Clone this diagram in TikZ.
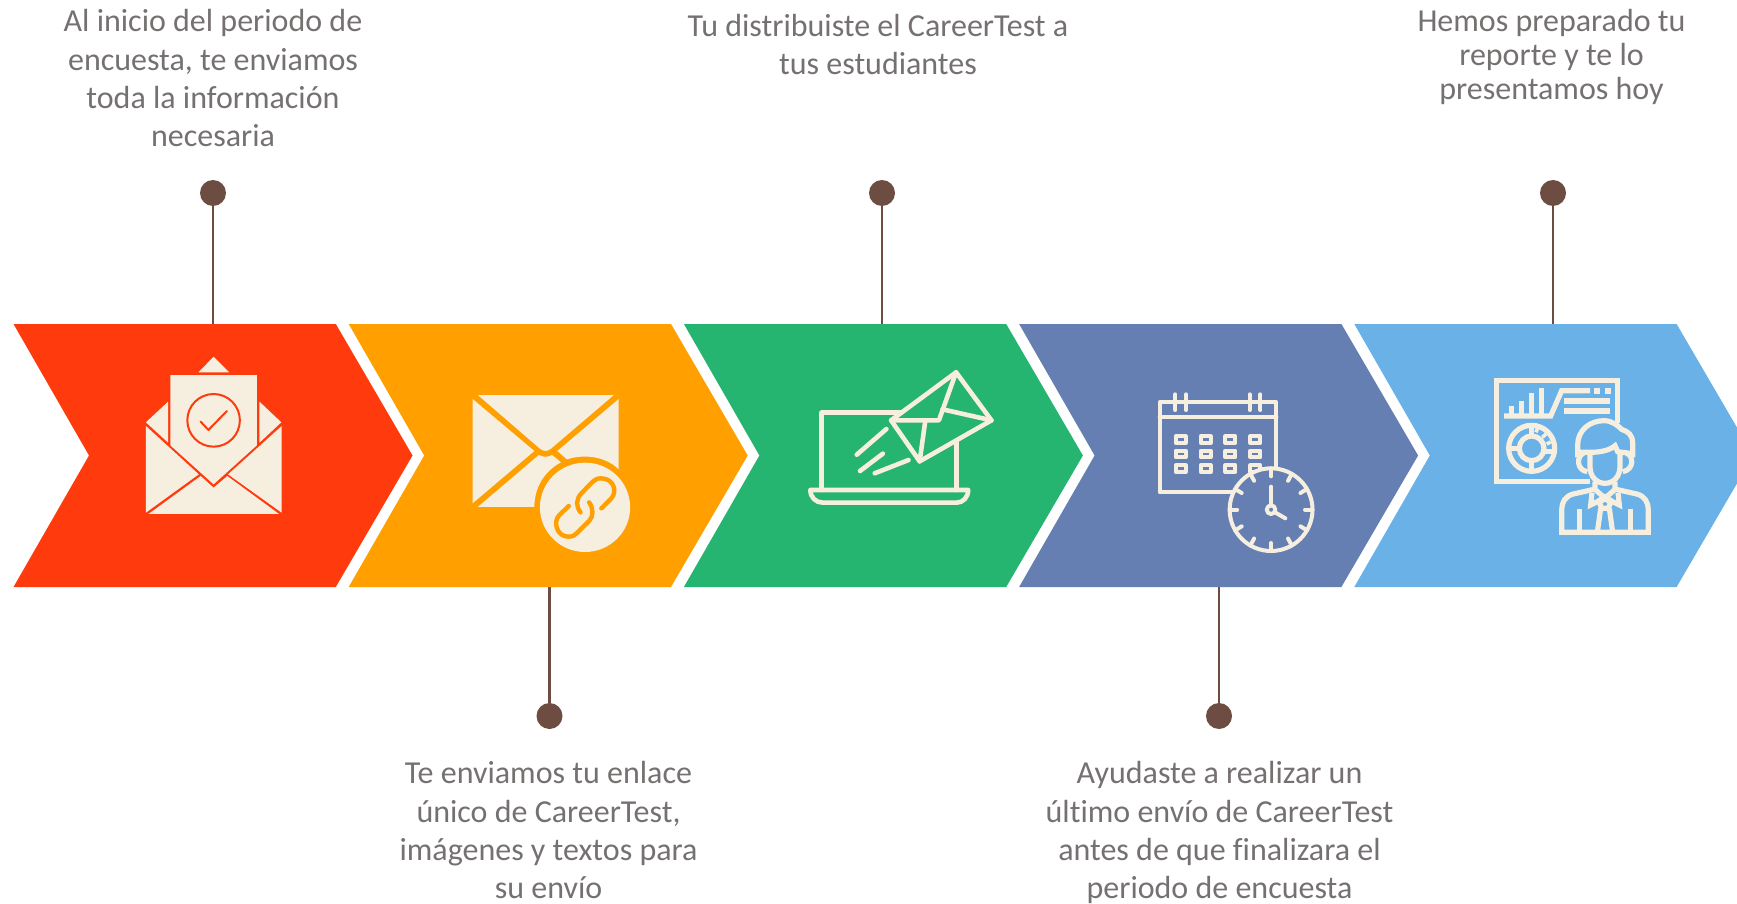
\documentclass[tikz,border=0pt]{standalone}
\usepackage{fontspec}
\setmainfont{Carlito}[Ligatures=NoCommon]
\definecolor{cred}{HTML}{FF3B0E}
\definecolor{corange}{HTML}{FF9F00}
\definecolor{cgreen}{HTML}{26B570}
\definecolor{cblue}{HTML}{657FB2}
\definecolor{csky}{HTML}{69B1E6}
\definecolor{cream}{HTML}{F6EEDF}
\definecolor{dotbrown}{HTML}{6D4C41}
\definecolor{txt}{HTML}{767171}
\tikzset{
  x=0.5pt,y=-0.5pt,
  chev/.pic={\fill[fill=#1] (0,324) -- (322.3,324) -- (399,455.5) -- (322.3,587) -- (0,587) -- (75.5,455.5) -- cycle;},
  dotnode/.style={circle,fill=dotbrown,minimum size=13pt,inner sep=0pt},
  conn/.style={draw=dotbrown,line width=1.25pt},
  lbl/.style={font=\fontsize{16}{19.2}\selectfont,text=txt,align=center,inner sep=0pt,anchor=north},
  lbls/.style={font=\fontsize{16}{17.2}\selectfont,text=txt,align=center,inner sep=0pt,anchor=north},
  zoomA/.style={shift={(120,340)},xscale=0.36996,yscale=0.33333},
  zoomB/.style={shift={(780,340)},xscale=0.35714,yscale=0.33333},
  zoomC/.style={shift={(1480,370)},xscale=0.33333,yscale=0.33333},
  creamfill/.style={fill=cream},
  creamline/.style={draw=cream,line join=round,line cap=round},
}
\begin{document}
\begin{tikzpicture}
\useasboundingbox (0,0) rectangle (1737,904);
\clip (0,0) rectangle (1737,904);
\fill[white] (0,0) rectangle (1737,904);
% connectors and dots
\coordinate (top1) at (213,324);
\coordinate (bot2) at (549.5,587);
\coordinate (top3) at (882,324);
\coordinate (bot4) at (1219,587);
\coordinate (top5) at (1553,324);
\node[dotnode] (d1) at (213,193) {};
\node[dotnode] (d2) at (549.5,716) {};
\node[dotnode] (d3) at (882,193) {};
\node[dotnode] (d4) at (1219,716) {};
\node[dotnode] (d5) at (1553,193) {};
\draw[conn] (d1) -- (top1);
\draw[conn] (d2) -- (bot2);
\draw[conn] (d3) -- (top3);
\draw[conn] (d4) -- (bot4);
\draw[conn] (d5) -- (top5);
% chevrons
\pic at (13.5,0) {chev=cred};
\pic at (348.7,0) {chev=corange};
\pic at (683.9,0) {chev=cgreen};
\pic at (1019.1,0) {chev=cblue};
\pic at (1354.3,0) {chev=csky};
% icon 1
\begin{scope}[zoomA]
\fill[creamfill] (212,97) -- (253,50) -- (295,97) -- cycle;
\fill[creamfill] (136,105) -- (370,105) -- (370,316) -- (253,433) -- (136,316) -- cycle;
\fill[creamfill] (70,247) -- (130,185) -- (130,308) -- cycle;
\fill[creamfill] (436,247) -- (377,185) -- (377,308) -- cycle;
\fill[creamfill] (70,258) -- (213,403) -- (70,518) -- cycle;
\fill[creamfill] (437,258) -- (292,403) -- (437,518) -- cycle;
\fill[creamfill] (77,522) -- (218,408) -- (253,443) -- (290,408) -- (430,522) -- cycle;
\draw[cred,line width=1pt] (253,241) ellipse (71 and 79);
\draw[cred,line width=1pt,line cap=round,line join=round] (218,245) -- (239,270) -- (289,213);
\end{scope}
% icon 2
\begin{scope}[zoomA]
\fill[creamfill] (967,165) -- (1335,165) -- (1165,326) .. controls (1155,335) and (1145,335) .. (1135,326) -- cycle;
\fill[creamfill] (953,177) -- (1120,333) -- (953,490) -- cycle;
\fill[creamfill] (1348,177) -- (1182,333) -- (1208,358) .. controls (1260,340) and (1315,352) .. (1348,388) -- cycle;
\fill[creamfill] (967,501) -- (1132,345) .. controls (1145,352) and (1155,352) .. (1168,345) -- (1192,367) .. controls (1145,395) and (1120,445) .. (1120,501) -- cycle;
\fill[creamfill] (1257,502) ellipse (122 and 134);
\draw[corange,line width=2.2pt,line cap=round,line join=round] (1213,498) -- (1187,526) .. controls (1170,545) and (1180,590) .. (1212,590) .. controls (1225,590) and (1230,585) .. (1236,578) -- (1268,543) .. controls (1280,530) and (1280,505) .. (1268,487);
\draw[corange,line width=2.2pt,line cap=round,line join=round] (1301,505) -- (1328,475) .. controls (1345,455) and (1335,415) .. (1300,415) .. controls (1290,415) and (1285,418) .. (1278,425) -- (1247,460) .. controls (1232,478) and (1232,500) .. (1245,517);
\end{scope}
% icon 3
\begin{scope}[zoomB]
\begin{scope}[creamline,line width=2.3pt]
\draw (340,218) -- (117,218) -- (117,450);
\draw (495,305) -- (495,450);
\draw (85,450) -- (527,450) .. controls (527,472) and (512,488) .. (495,488) -- (120,488) .. controls (100,488) and (85,472) .. (85,450) -- cycle;
\draw (493,97) -- (592,241) -- (391,364) -- (311,241) -- cycle;
\draw (311,241) -- (445,241) -- (493,97);
\draw (455,208) -- (592,241);
\draw (407,241) -- (391,364);
\draw (298,267) -- (215,344);
\draw (288,341) -- (224,393);
\draw (360,360) -- (265,400);
\end{scope}
\end{scope}
% icon 4
\begin{scope}[zoomB]
\begin{scope}[creamline,line width=2pt]
\draw (1390,385) -- (1390,187) -- (1063,187) -- (1063,457) -- (1265,457);
\draw (1063,231) -- (1390,231);
\foreach \xx in {1107,1137,1315,1345} \draw (\xx,163) -- (\xx,210);
\foreach \xx in {1122,1192,1261,1331} \foreach \yy in {299,342,386}
  \draw (\xx-14,\yy-10) rectangle (\xx+14,\yy+10);
\fill[cblue] (1375,509) ellipse (116 and 124);
\draw (1375,509) ellipse (116 and 124);
\foreach \a in {0,30,...,330} \draw ({1375+116*cos(\a)},{509+124*sin(\a)}) -- ({1375+95*cos(\a)},{509+100*sin(\a)});
\draw (1375,440) -- (1375,495);
\draw (1375,509) ellipse (12 and 13);
\draw (1386,517) -- (1415,535);
\end{scope}
\end{scope}
% icon 5
\begin{scope}[zoomC]
\begin{scope}[creamline,line width=2.6pt,line cap=butt,line join=miter]
\draw (413,160) -- (413,31) -- (49,31) -- (49,334) -- (330,334);
\draw (72,138) -- (212,138) -- (245,62) -- (330,62);
\foreach \xx/\yy in {94/107,125/92,155/70,185/53} \draw (\xx,\yy) -- (\xx,138);
\draw (252,93) -- (390,93);
\draw (252,123) -- (390,123);
\draw (155,235) circle (69);
\draw (155,235) circle (37);
\draw (155,165) -- (155,198);
\draw (155,272) -- (155,305);
\draw (86,235) -- (118,235);
\draw (192,245) -- (224,245);
% person
\draw (293,262) -- (293,225) .. controls (293,180) and (330,152) .. (372,152) .. controls (395,152) and (412,165) .. (425,178) .. controls (445,185) and (458,195) .. (458,220) -- (458,262);
\draw (310,250) .. controls (290,258) and (288,300) .. (322,305);
\draw (440,250) .. controls (462,258) and (462,300) .. (428,305);
\draw (330,250) -- (330,290) .. controls (330,320) and (350,340) .. (375,340) .. controls (400,340) and (420,320) .. (420,290) -- (420,250);
\draw (298,247) -- (330,247) .. controls (365,247) and (390,240) .. (405,227) -- (413,245) -- (450,250);
\draw (345,335) -- (345,358) -- (375,385) -- (405,358) -- (405,335);
\draw (342,358) -- (280,372) .. controls (255,378) and (245,398) .. (245,420) -- (245,487) -- (505,487) -- (505,420) .. controls (505,398) and (495,378) .. (470,372) -- (408,358);
\draw (336,368) -- (332,405) -- (352,395) -- (375,380) -- (398,395) -- (418,405) -- (414,368);
\draw (375,385) -- (358,398) -- (365,415) -- (385,415) -- (392,398) -- cycle;
\draw (362,415) -- (352,487);
\draw (388,415) -- (398,487);
\draw (299,417) -- (299,487);
\draw (451,417) -- (451,487);
\end{scope}
\fill[creamfill] (342,54) rectangle (360,72);
\fill[creamfill] (375,54) rectangle (393,72);
\draw[cream,line width=1.8pt] (168,187) -- (172,176);
\draw[cream,line width=1.8pt] (187,202) -- (198,192);
\draw[cream,line width=1.8pt] (200,222) -- (212,216);
\end{scope}
% texts
\node[lbl] (t1) at (213,9) {Al inicio del periodo de\\encuesta, te enviamos\\toda la información\\necesaria};
\node[lbl] (t2) at (548.5,761) {Te enviamos tu enlace\\único de CareerTest,\\imágenes y textos para\\su envío};
\node[lbl] (t3) at (878,13.5) {Tu distribuiste el CareerTest a\\tus estudiantes};
\node[lbl] (t4) at (1219.5,761) {Ayudaste a realizar un\\último envío de CareerTest\\antes de que finalizara el\\periodo de encuesta};
\node[lbls] (t5) at (1551.5,8.5) {Hemos preparado tu\\reporte y te lo\\presentamos hoy};
\end{tikzpicture}
\end{document}
